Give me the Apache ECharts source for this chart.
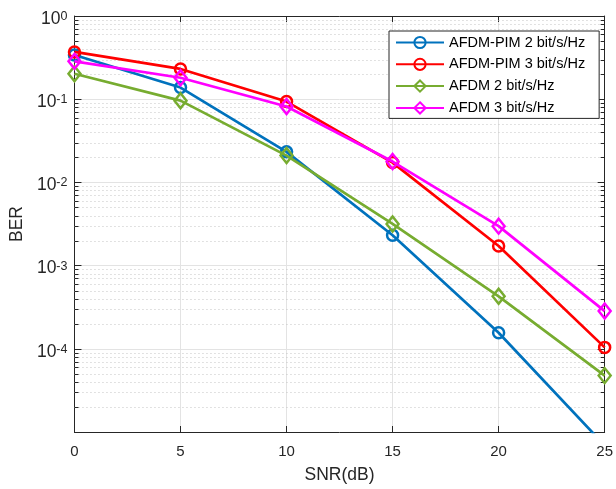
<!DOCTYPE html>
<html>
<head>
<meta charset="utf-8">
<script src="https://cdn.jsdelivr.net/npm/echarts@6/dist/echarts.min.js"></script>
<style>html,body{margin:0;padding:0;background:#fff}#c{width:616px;height:489px}</style>
</head>
<body>
<div id="c"></div>
<script>
// ---- data ----
const snr = [0, 5, 10, 15, 20, 25];
const seriesNames = ['AFDM-PIM 2 bit/s/Hz', 'AFDM-PIM 3 bit/s/Hz', 'AFDM 2 bit/s/Hz', 'AFDM 3 bit/s/Hz'];
const berPim2 = [0.34, 0.138, 0.0233, 0.00232, 1.56e-4, 6.9e-6];
const berPim3 = [0.37, 0.231, 0.0937, 0.0173, 0.00172, 1.04e-4];
const berAfdm2 = [0.202, 0.096, 0.021, 0.00317, 4.27e-4, 4.76e-5];
const berAfdm3 = [0.285, 0.181, 0.0818, 0.0178, 0.00298, 2.84e-4];
const xTicks = [0, 5, 10, 15, 20, 25];
const yDecades = [1e-5, 1e-4, 1e-3, 1e-2, 1e-1, 1];

const colors = ['#0072BD', '#FF0000', '#77AC30', '#FF00FF'];
const symbols = ['circle', 'circle', 'diamond', 'diamond'];
const symbolSizes = [11, 11, [12, 15], [12, 15]];
const allData = [berPim2, berPim3, berAfdm2, berAfdm3];

// minor tick values 2..9 x 10^k
const minorVals = [];
for (let k = -5; k < 0; k++) for (let m = 2; m <= 9; m++) minorVals.push(m * Math.pow(10, k));

const axisColor = '#262626';
const chart = echarts.init(document.getElementById('c'), null, {renderer: 'canvas'});

const yLabelRich = {
  b: {fontSize: 17.5, lineHeight: 18, verticalAlign: 'bottom', color: axisColor, fontFamily: 'Liberation Sans'},
  s: {fontSize: 12.5, lineHeight: 12, padding: [0, 0, 9, 0], verticalAlign: 'top', color: axisColor, fontFamily: 'Liberation Sans'}
};

const series = seriesNames.map((n, i) => ({
  name: n,
  type: 'line',
  data: snr.map((x, j) => [x, allData[i][j]]),
  symbol: symbols[i],
  symbolSize: symbolSizes[i],
  showAllSymbol: true,
  clip: true,
  lineStyle: {color: colors[i], width: 2.7},
  itemStyle: {color: 'rgba(255,255,255,0)', borderColor: colors[i], borderWidth: 2.5},
  z: 10 + i
}));

series.unshift({
  type: 'custom',
  name: 'minor',
  silent: true,
  z: 1,
  data: minorVals.map(v => [0, v]),
  renderItem: function (params, api) {
    const cs = params.coordSys;
    const y = Math.round(api.coord([0, api.value(1)])[1]) + 0.5;
    return {
      type: 'group',
      children: [
        {type: 'line', shape: {x1: cs.x, y1: y, x2: cs.x + cs.width, y2: y},
         style: {stroke: '#c4c4c4', lineWidth: 1, lineDash: [1, 3]}},
        {type: 'line', shape: {x1: cs.x, y1: y, x2: cs.x + 4, y2: y},
         style: {stroke: axisColor, lineWidth: 1}},
        {type: 'line', shape: {x1: cs.x + cs.width - 4, y1: y, x2: cs.x + cs.width, y2: y},
         style: {stroke: axisColor, lineWidth: 1}}
      ]
    };
  }
});

const option = {
  animation: false,
  backgroundColor: '#fff',
  textStyle: {fontFamily: 'Liberation Sans'},
  grid: {left: 70, right: 10, top: 16, bottom: 49.5, containLabel: false},
  legend: {
    data: seriesNames,
    orient: 'vertical',
    left: 389, top: 31,
    width: 212,
    padding: [4, 14, 3, 6],
    itemWidth: 48, itemHeight: 14, itemGap: 6.8,
    backgroundColor: '#fff',
    borderColor: axisColor, borderWidth: 1, borderRadius: 0,
    textStyle: {fontSize: 14.5, color: '#000', fontFamily: 'Liberation Sans'}
  },
  xAxis: [{
    type: 'value', min: 0, max: 25, interval: 5, position: 'bottom',
    name: 'SNR(dB)', nameLocation: 'middle', nameGap: 34,
    nameTextStyle: {fontSize: 17.5, color: axisColor, fontFamily: 'Liberation Sans'},
    axisLine: {show: true, onZero: false, lineStyle: {color: axisColor, width: 1}},
    axisTick: {show: true, inside: true, length: 6, lineStyle: {color: axisColor}},
    axisLabel: {fontSize: 15, color: axisColor, margin: 12, fontFamily: 'Liberation Sans',
      formatter: v => xTicks.includes(v) ? String(v) : ''},
    splitLine: {show: true, lineStyle: {color: '#e3e3e3', width: 1}}
  }, {
    type: 'value', min: 0, max: 25, interval: 5, position: 'top',
    axisLine: {show: true, onZero: false, lineStyle: {color: axisColor, width: 1}},
    axisTick: {show: true, inside: true, length: 6, lineStyle: {color: axisColor}},
    axisLabel: {show: false}, splitLine: {show: false}
  }],
  yAxis: [{
    type: 'log', logBase: 10, min: 1e-5, max: 1, position: 'left',
    name: 'BER', nameLocation: 'middle', nameGap: 45, nameRotate: 90,
    nameTextStyle: {fontSize: 17.5, color: axisColor, fontFamily: 'Liberation Sans'},
    axisLine: {show: true, onZero: false, lineStyle: {color: axisColor, width: 1}},
    axisTick: {show: true, inside: true, length: 7, lineStyle: {color: axisColor}},
    axisLabel: {
      margin: 7, fontSize: 17.5, padding: [6, 0, 0, 0], rich: yLabelRich,
      formatter: function (v) {
        const e = Math.round(Math.log10(v));
        if (e <= -5) return '';
        return '{b|10}{s|' + e + '}';
      }
    },
    splitLine: {show: true, lineStyle: {color: '#e3e3e3', width: 1}}
  }, {
    type: 'log', logBase: 10, min: 1e-5, max: 1, position: 'right',
    axisLine: {show: true, onZero: false, lineStyle: {color: axisColor, width: 1}},
    axisTick: {show: true, inside: true, length: 7, lineStyle: {color: axisColor}},
    axisLabel: {show: false}, splitLine: {show: false}
  }],
  series: series
};
chart.setOption(option);
</script>
</body>
</html>
